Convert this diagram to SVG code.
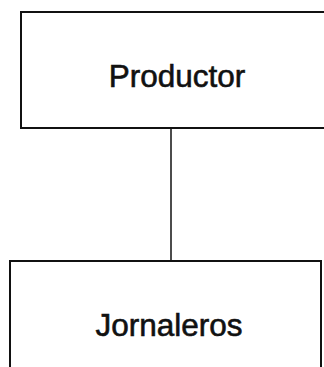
<svg xmlns="http://www.w3.org/2000/svg" width="324" height="367" viewBox="0 0 324 367">
<style>
.box{fill:#fff;stroke:#111;stroke-width:2}
.lbl{font-family:"Liberation Sans",Arial,sans-serif;font-size:31.5px;fill:#111;stroke:#111;stroke-width:0.6;text-anchor:middle}
.edge{stroke:#111;stroke-width:1.5;fill:none}
</style>
<rect width="324" height="367" fill="#fff"/>
<g id="connectors">
<line class="edge" x1="171" y1="128" x2="171" y2="261"/>
</g>
<g id="productor">
<rect class="box" x="21" y="12" width="320" height="116"/>
<text class="lbl" x="177" y="87">Productor</text>
</g>
<g id="jornaleros">
<rect class="box" x="10" y="261" width="311" height="130"/>
<text class="lbl" x="169" y="336">Jornaleros</text>
</g>
</svg>
